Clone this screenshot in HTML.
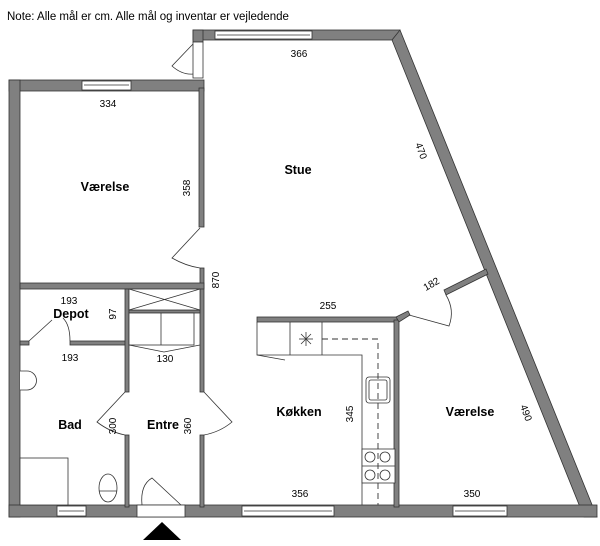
<!DOCTYPE html>
<html><head><meta charset="utf-8"><style>
body{margin:0;background:#fff}
svg{display:block}
text{font-family:"Liberation Sans",sans-serif;fill:#000}
.n{font-size:10px}
.b{font-size:12.5px;font-weight:bold}
</style></head><body>
<svg width="600" height="546" viewBox="0 0 600 546" xmlns="http://www.w3.org/2000/svg">
<text x="7" y="20" style="font-size:11.5px">Note: Alle mål er cm. Alle mål og inventar er vejledende</text>
<g fill="#808080" stroke="#333" stroke-width="0.8">
<!-- top stue wall -->
<rect x="193" y="30" width="207" height="10"/>
<!-- small left wall stub above door -->
<rect x="193" y="30" width="10" height="12"/>
<!-- slanted right wall -->
<polygon points="400,30 597,517 584,517 392,40"/>
<!-- left room top wall -->
<rect x="9" y="80" width="195" height="11"/>
<!-- left outer wall -->
<rect x="9" y="80" width="11" height="437"/>
<!-- bottom wall -->
<rect x="9" y="505" width="588" height="12"/>
<!-- vertical wall between værelse/stue -->
<rect x="199" y="88" width="5" height="139"/>
<rect x="200" y="268" width="4" height="124"/>
<rect x="200" y="435" width="4" height="72"/>
<!-- horizontal wall under værelse -->
<rect x="20" y="283" width="184" height="6"/>
<!-- depot bottom -->
<rect x="70" y="341" width="58" height="4"/>
<rect x="20" y="341" width="9" height="4"/>
<!-- vertical wall x125 -->
<rect x="125" y="289" width="4" height="103"/>
<rect x="125" y="435" width="4" height="72"/>
<!-- cabinet divider -->
<rect x="129" y="310" width="71" height="3"/>
<!-- kitchen walls -->
<rect x="257" y="317" width="141" height="5"/>
<rect x="394" y="320" width="5" height="187"/>
<polygon points="396,317 408,311 410,315 399,322"/>
<!-- stub from slanted wall -->
<polygon points="444,290 486,269 488,274 446,295"/>
</g>
<!-- windows -->
<g fill="#fff" stroke="#333" stroke-width="0.8">
<rect x="215" y="31" width="97" height="8"/><line x1="217" y1="35" x2="310" y2="35"/>
<rect x="82" y="81" width="49" height="9"/><line x1="84" y1="85" x2="129" y2="85"/>
<rect x="57" y="506" width="29" height="10"/><line x1="59" y1="511" x2="84" y2="511"/>
<rect x="242" y="506" width="92" height="10"/><line x1="244" y1="511" x2="332" y2="511"/>
<rect x="453" y="506" width="54" height="10"/><line x1="455" y1="511" x2="505" y2="511"/>
<rect x="137" y="505" width="48" height="12"/>
<rect x="193" y="42" width="10" height="36"/>
</g>
<!-- door swings -->
<g fill="none" stroke="#333" stroke-width="0.8">
<path d="M193,44 L172,66 Q182,75 193,74"/>
<path d="M200,228 L172,258 Q186,266 200,268"/>
<path d="M29,341 L52,320"/>
<path d="M70,341 Q70,325 63,318"/>
<path d="M125,392 L97,422 Q110,432 125,435"/>
<path d="M204,392 L232,422 Q220,432 204,435"/>
<path d="M142,505 Q140,485 152,478 L181,505"/>
<path d="M409,315 L449,326 Q455,310 446,295"/>
<path d="M257,355 L285,360"/>
</g>
<!-- cabinets -->
<g fill="#fff" stroke="#333" stroke-width="0.8">
<rect x="129" y="289" width="71" height="21"/>
<line x1="129" y1="289" x2="200" y2="310"/><line x1="200" y1="289" x2="129" y2="310"/>
<rect x="129" y="313" width="65" height="32"/>
<line x1="161" y1="313" x2="161" y2="345"/>
<path d="M129,345 L164,352 L200,345" fill="none"/>
<!-- kitchen counter -->
<path d="M257,322 L257,355 L362,355 L362,505" fill="none"/>
<line x1="290" y1="322" x2="290" y2="355"/>
<line x1="322" y1="322" x2="322" y2="355"/>
<rect x="366" y="377" width="24" height="26" rx="3"/>
<rect x="369" y="380" width="18" height="20" rx="2"/>
<rect x="362" y="449" width="33" height="34"/>
<line x1="362" y1="466" x2="395" y2="466"/>
<circle cx="370" cy="457" r="5"/><circle cx="385" cy="457" r="5"/>
<circle cx="370" cy="475" r="5"/><circle cx="385" cy="475" r="5"/>
<!-- bath -->
<rect x="20" y="458" width="48" height="47"/>
<ellipse cx="108" cy="488" rx="9" ry="14"/>
<line x1="99" y1="491" x2="117" y2="491"/>
<path d="M20,371 L27,371 A9,9 0 0 1 27,390 L20,390"/>
</g>
<path d="M322,339 L378,339 L378,505" fill="none" stroke="#333" stroke-width="0.9" stroke-dasharray="6,4"/>
<g stroke="#333" stroke-width="0.8"><line x1="299" y1="339" x2="313" y2="339"/><line x1="306" y1="332" x2="306" y2="346"/><line x1="301" y1="334" x2="311" y2="344"/><line x1="311" y1="334" x2="301" y2="344"/></g>
<polygon points="143,540 181,540 162,522" fill="#000"/>
<!-- labels -->
<text class="b" x="105" y="191" text-anchor="middle">Værelse</text>
<text class="b" x="298" y="174" text-anchor="middle">Stue</text>
<text class="b" x="71" y="318" text-anchor="middle">Depot</text>
<text class="b" x="70" y="429" text-anchor="middle">Bad</text>
<text class="b" x="163" y="429" text-anchor="middle">Entre</text>
<text class="b" x="299" y="416" text-anchor="middle">Køkken</text>
<text class="b" x="470" y="416" text-anchor="middle">Værelse</text>
<g class="n" text-anchor="middle">
<text x="299" y="57">366</text>
<text x="108" y="107">334</text>
<text x="69" y="304">193</text>
<text x="70" y="361">193</text>
<text x="165" y="362">130</text>
<text x="328" y="309">255</text>
<text x="300" y="497">356</text>
<text x="472" y="497">350</text>
<text transform="translate(190,188) rotate(-90)">358</text>
<text transform="translate(219,280) rotate(-90)">870</text>
<text transform="translate(116,314) rotate(-90)">97</text>
<text transform="translate(116,426) rotate(-90)">300</text>
<text transform="translate(191,426) rotate(-90)">360</text>
<text transform="translate(353,414) rotate(-90)">345</text>
<text transform="translate(418,152) rotate(70)">470</text>
<text transform="translate(523,414) rotate(70)">490</text>
<text transform="translate(433,287) rotate(-30)">182</text>
</g>
</svg>
</body></html>
